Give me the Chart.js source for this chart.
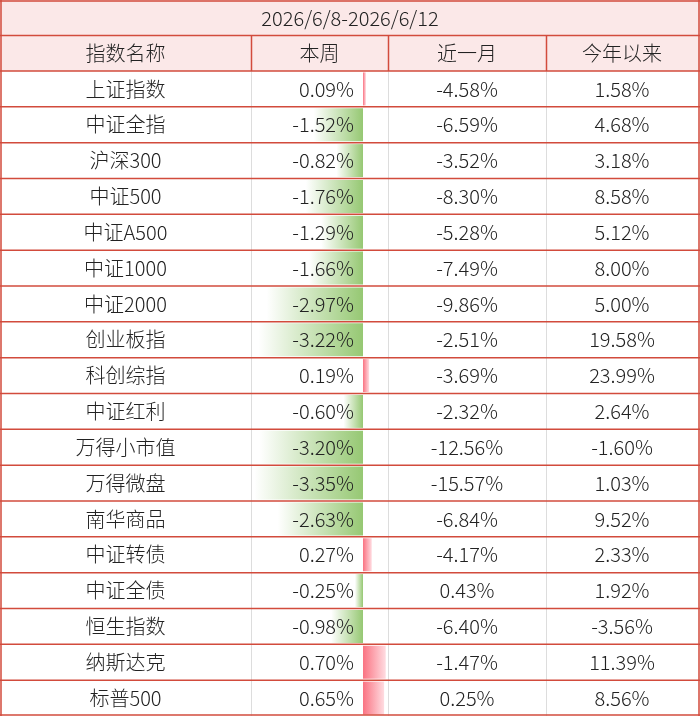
<!DOCTYPE html>
<html><head><meta charset="utf-8">
<script src="https://cdn.jsdelivr.net/npm/chart.js@4/dist/chart.umd.min.js"></script>
<style>html,body{margin:0;padding:0;background:#fff}#w{width:700px;height:716px}</style>
</head><body><div id="w"><canvas id="c" width="700" height="716"></canvas></div>
<script>
const title = "2026/6/8-2026/6/12";
const headers = ["指数名称","本周","近一月","今年以来"];
const names = ["上证指数","中证全指","沪深300","中证500","中证A500","中证1000","中证2000","创业板指","科创综指","中证红利","万得小市值","万得微盘","南华商品","中证转债","中证全债","恒生指数","纳斯达克","标普500"];
const week = [0.09,-1.52,-0.82,-1.76,-1.29,-1.66,-2.97,-3.22,0.19,-0.60,-3.20,-3.35,-2.63,0.27,-0.25,-0.98,0.70,0.65];
const month = [-4.58,-6.59,-3.52,-8.30,-5.28,-7.49,-9.86,-2.51,-3.69,-2.32,-12.56,-15.57,-6.84,-4.17,0.43,-6.40,-1.47,0.25];
const ytd = [1.58,4.68,3.18,8.58,5.12,8.00,5.00,19.58,23.99,2.64,-1.60,1.03,9.52,2.33,1.92,-3.56,11.39,8.56];

const colX = [0,251,388,546,698];
const rowTop = 71, rowH = (716-71)/names.length, font = '300 20px "Noto Sans CJK SC", "Noto Sans", sans-serif';
const fmt = v => v.toFixed(2)+"%";

const tablePlugin = {
  id:'table',
  beforeDraw(chart){
    const ctx = chart.ctx;
    ctx.save();
    ctx.fillStyle='#fff';ctx.fillRect(0,0,700,716);
    ctx.fillStyle='#fbe8e8';ctx.fillRect(0,0,700,71);
    ctx.strokeStyle='#dddddd';ctx.lineWidth=1;
    for(const x of colX.slice(1,4)){ctx.beginPath();ctx.moveTo(x+0.5,71);ctx.lineTo(x+0.5,716);ctx.stroke();}
    ctx.restore();
  },
  afterDraw(chart){
    const ctx = chart.ctx;
    ctx.save();
    ctx.strokeStyle='#d24b3c';ctx.lineWidth=1.5;
    const hl = y=>{ctx.beginPath();ctx.moveTo(0,y);ctx.lineTo(700,y);ctx.stroke();};
    hl(1);hl(35.5);
    for(let i=0;i<=names.length;i++) hl(Math.min(rowTop+i*rowH,715));
    ctx.beginPath();ctx.moveTo(1,0);ctx.lineTo(1,716);ctx.moveTo(699,0);ctx.lineTo(699,716);ctx.stroke();
    for(const x of colX.slice(1,4)){ctx.beginPath();ctx.moveTo(x+0.5,35.5);ctx.lineTo(x+0.5,71);ctx.stroke();}
    ctx.fillStyle='#222';ctx.font=font;ctx.textBaseline='middle';ctx.textAlign='center';
    ctx.fillText(title,350,18);
    headers.forEach((h,i)=>ctx.fillText(h,(colX[i]+colX[i+1])/2,53));
    names.forEach((n,i)=>{
      const cy = rowTop+(i+0.5)*rowH;
      ctx.textAlign='center';
      ctx.fillText(n,(colX[0]+colX[1])/2,cy);
      ctx.fillText(fmt(month[i]),(colX[2]+colX[3])/2,cy);
      ctx.fillText(fmt(ytd[i]),(colX[3]+colX[4])/2,cy);
      ctx.textAlign='right';
      ctx.fillText(fmt(week[i]),354,cy);
    });
    ctx.restore();
  }
};

function barColor(c){
  const chart=c.chart; if(!chart.chartArea) return '#9c9';
  const v=week[c.dataIndex]; const xs=chart.scales.x;
  const x0=xs.getPixelForValue(0), x1=xs.getPixelForValue(v);
  const g=chart.ctx.createLinearGradient(x1,0,x0,0);
  if(v<0){g.addColorStop(0,'rgba(255,255,255,1)');g.addColorStop(1,'rgba(150,200,115,1)');}
  else{g.addColorStop(0,'rgba(255,220,225,1)');g.addColorStop(1,'rgba(250,115,130,1)');}
  return g;
}

new Chart(document.getElementById('c'),{
  type:'bar',
  data:{labels:names,datasets:[{data:week,backgroundColor:barColor,borderWidth:0,barPercentage:0.92,categoryPercentage:1}]},
  options:{
    indexAxis:'y',responsive:false,animation:false,devicePixelRatio:1,
    layout:{padding:{left:252,right:312,top:71,bottom:0}},
    plugins:{legend:{display:false},tooltip:{enabled:false}},
    scales:{x:{display:false,min:-3.42,max:0.77},y:{display:false}}
  },
  plugins:[tablePlugin]
});
</script></body></html>
